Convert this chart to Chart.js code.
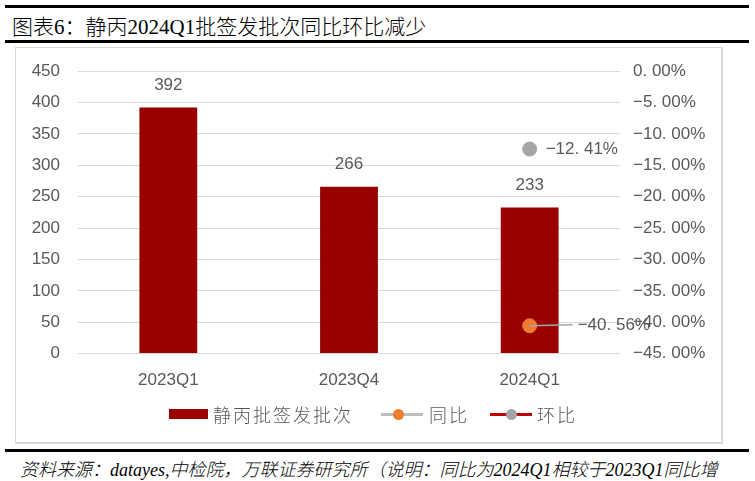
<!DOCTYPE html>
<html>
<head>
<meta charset="utf-8">
<script src="https://cdn.jsdelivr.net/npm/chart.js@4.4.1/dist/chart.umd.min.js"></script>
<style>
  body { margin: 0; background: #fff; width: 755px; height: 481px; position: relative; overflow: hidden; }
  .rule { position: absolute; left: 5px; width: 744px; height: 3px; background: #000; }
  #title { position: absolute; left: 12px; top: 10px; font: 300 21px "Liberation Serif", "Noto Sans CJK SC", serif; color: #000; white-space: nowrap; }
  #box { position: absolute; left: 15px; top: 47px; width: 705px; height: 394px; border: 1px solid #d9d9d9; border-right-width: 2px; border-bottom-width: 2px; }
  #wrap { position: absolute; left: 0; top: -5px; width: 705px; height: 399px; }
  #footer { position: absolute; left: 20px; top: 455px; width: 730px; font: italic 300 18px "Liberation Serif", "Noto Sans CJK SC", serif; color: #000; white-space: nowrap; overflow: hidden; }
  #legend { position: absolute; top: 354px; left: 0; width: 705px; height: 24px; font: 300 18px "Noto Sans CJK SC", sans-serif; color: #595959; letter-spacing: 2px; }
  .it { position: absolute; top: 0; line-height: 24px; }
</style>
</head>
<body>
<div class="rule" style="top:5px"></div>
<div id="title">图表6：静丙2024Q1批签发批次同比环比减少</div>
<div class="rule" style="top:40px"></div>
<div id="box">
  <div id="wrap"><canvas id="myChart"></canvas></div>
  <div id="legend">
    <div class="it" style="left:153px;top:7px;width:39px;height:10px;background:#990000"></div>
    <div class="it" style="left:197px">静丙批签发批次</div>
    <div class="it" style="left:365px;top:11px;width:42px;height:3px;background:#bfbfbf"></div>
    <div class="it" style="left:377px;top:7px;width:11px;height:11px;border-radius:50%;background:#ed7d31"></div>
    <div class="it" style="left:413px">同比</div>
    <div class="it" style="left:474px;top:11px;width:42px;height:3px;background:#c00000"></div>
    <div class="it" style="left:490px;top:7px;width:11px;height:11px;border-radius:50%;background:#a5a5a5"></div>
    <div class="it" style="left:521px">环比</div>
  </div>
</div>
<div class="rule" style="top:449px"></div>
<div id="footer">资料来源：datayes,中检院，万联证券研究所（说明：同比为2024Q1相较于2023Q1同比增</div>

<script>
    // 静丙批签发批次 + 同比/环比
    const labels = ['2023Q1', '2023Q4', '2024Q1'];
    const batches = [392, 266, 233];
    const yoy = [null, null, -40.56];
    const qoq = [null, null, -12.41];

    const gray = '#595959';
    const tickFont = { family: 'Liberation Sans, Arial, sans-serif', size: 17 };

    function pct(v) {
        const s = Math.abs(v).toFixed(2).replace('.', '. ');
        return (v < 0 ? '−' : '') + s + '%';
    }

    // value labels (no datalabels plugin offline)
    const valueLabels = {
        id: 'valueLabels',
        afterDatasetsDraw(chart) {
            const ctx = chart.ctx;
            ctx.save();
            ctx.font = '17px Liberation Sans, Arial, sans-serif';
            ctx.fillStyle = gray;
            ctx.textBaseline = 'middle';
            chart.getDatasetMeta(0).data.forEach((bar, i) => {
                ctx.textAlign = 'center';
                ctx.fillText(batches[i], bar.x, bar.y - 22);
            });
            chart.getDatasetMeta(2).data.forEach((pt, i) => {
                if (qoq[i] == null) return;
                ctx.textAlign = 'left';
                ctx.fillText(pct(qoq[i]), pt.x + 16, pt.y);
            });
            chart.getDatasetMeta(1).data.forEach((pt, i) => {
                if (yoy[i] == null) return;
                ctx.strokeStyle = '#a6a6a6';
                ctx.lineWidth = 1.5;
                ctx.beginPath();
                ctx.moveTo(pt.x, pt.y);
                ctx.lineTo(pt.x + 43, pt.y - 1);
                ctx.stroke();
                ctx.textAlign = 'left';
                ctx.fillText(pct(yoy[i]), pt.x + 48, pt.y);
            });
            ctx.restore();
        }
    };

    const data = {
        labels: labels,
        datasets: [{
            type: 'bar',
            label: '静丙批签发批次',
            data: batches,
            backgroundColor: '#990000',
            categoryPercentage: 1,
            barPercentage: 0.32,
            yAxisID: 'y',
            order: 2
        }, {
            type: 'line',
            label: '同比',
            data: yoy,
            borderColor: '#bfbfbf',
            pointBackgroundColor: '#ed7d31',
            pointBorderColor: '#ed7d31',
            pointRadius: 7,
            yAxisID: 'y1',
            order: 1
        }, {
            type: 'line',
            label: '环比',
            data: qoq,
            borderColor: '#c00000',
            pointBackgroundColor: '#a5a5a5',
            pointBorderColor: '#a5a5a5',
            pointRadius: 7,
            yAxisID: 'y1',
            order: 1
        }]
    };

    const config = {
        data: data,
        options: {
            responsive: true,
            maintainAspectRatio: false,
            animation: false,
            layout: { padding: { top: 12, bottom: 42 } },
            plugins: {
                legend: { display: false },
                tooltip: { enabled: false }
            },
            scales: {
                x: {
                    grid: { display: false },
                    border: { display: false },
                    ticks: { color: gray, font: tickFont, padding: 9 }
                },
                y: {
                    min: 0, max: 450,
                    afterFit(s) { s.width = 62; },
                    grid: { color: '#d9d9d9', drawTicks: false },
                    border: { display: false },
                    ticks: { stepSize: 50, color: gray, font: tickFont, padding: 18 }
                },
                y1: {
                    position: 'right',
                    min: -45, max: 0,
                    afterFit(s) { s.width = 101; },
                    grid: { display: false },
                    border: { display: false },
                    ticks: { stepSize: 5, color: gray, font: tickFont, padding: 5, callback: v => pct(v) }
                }
            }
        },
        plugins: [valueLabels]
    };

    const myChart = new Chart(document.getElementById('myChart'), config);
</script>
</body>
</html>
